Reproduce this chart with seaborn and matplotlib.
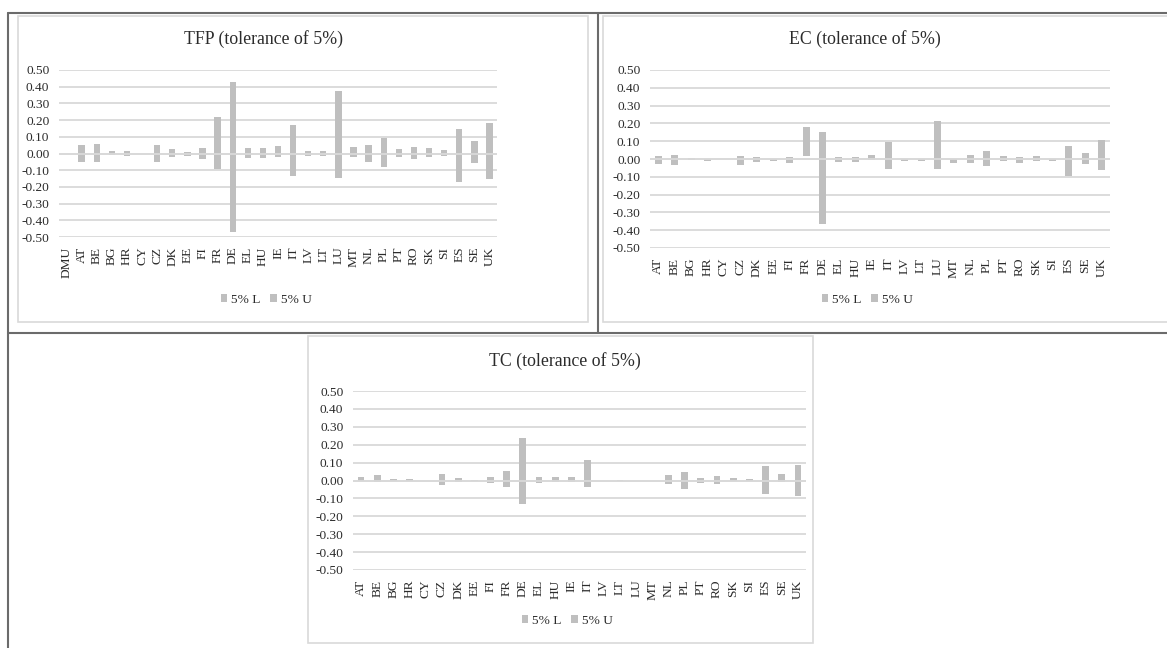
import numpy as np
import pandas as pd
import matplotlib
matplotlib.use("Agg")
import matplotlib.pyplot as plt
import seaborn as sns
from matplotlib.lines import Line2D
from matplotlib.patches import Rectangle, Patch
from matplotlib.ticker import FixedLocator, FuncFormatter

# ---------------- data ----------------
countries = ["AT", "BE", "BG", "HR", "CY", "CZ", "DK", "EE", "FI", "FR", "DE", "EL", "HU", "IE",
             "IT", "LV", "LT", "LU", "MT", "NL", "PL", "PT", "RO", "SK", "SI", "ES", "SE", "UK"]
tfp_cats = ["DMU"] + countries

tfp_L = [0, -0.05, -0.052, -0.01, -0.014, 0, -0.052, -0.022, -0.014, -0.034, -0.092, -0.472, -0.026,
         -0.026, -0.018, -0.133, -0.012, -0.012, -0.147, -0.02, -0.05, -0.082, -0.02, -0.032, -0.022,
         -0.014, -0.171, -0.058, -0.151]
tfp_U = [0, 0.052, 0.058, 0.015, 0.016, 0, 0.052, 0.028, 0.006, 0.034, 0.217, 0.43, 0.03, 0.034,
         0.042, 0.173, 0.016, 0.016, 0.376, 0.036, 0.052, 0.09, 0.028, 0.038, 0.034, 0.018, 0.149,
         0.074, 0.185]

ec_L = [-0.03, -0.032, -0.004, -0.011, 0, -0.032, -0.017, -0.013, -0.024, 0.017, -0.364, -0.019,
        -0.019, -0.004, -0.056, -0.011, -0.011, -0.056, -0.025, -0.024, -0.037, -0.011, -0.02,
        -0.013, -0.011, -0.095, -0.026, -0.062]
ec_U = [0.019, 0.02, 0.004, -0.002, 0, 0.019, 0.009, -0.002, 0.009, 0.181, 0.153, 0.009, 0.011,
        0.022, 0.097, 0, 0, 0.215, -0.002, 0.022, 0.045, 0.015, 0.013, 0.017, 0, 0.073, 0.034, 0.107]

tc_L = [-0.003, -0.011, -0.002, -0.002, 0, -0.024, -0.009, -0.002, -0.013, -0.039, -0.129, -0.013,
        -0.007, -0.011, -0.039, 0, -0.002, 0, 0, -0.021, -0.047, -0.013, -0.019, -0.003, -0.003,
        -0.078, -0.007, -0.084]
tc_U = [0.02, 0.028, 0.008, 0.006, 0, 0.035, 0.015, 0.003, 0.022, 0.054, 0.235, 0.022, 0.019,
        0.019, 0.112, 0, 0.004, 0, 0, 0.032, 0.047, 0.015, 0.024, 0.012, 0.007, 0.082, 0.039, 0.088]

titles = ["TFP (tolerance of 5%)", "EC (tolerance of 5%)", "TC (tolerance of 5%)"]
series_names = ["5% L", "5% U"]
yticks = [-0.5, -0.4, -0.3, -0.2, -0.1, 0.0, 0.1, 0.2, 0.3, 0.4, 0.5]

# ---------------- style ----------------
sns.set_theme(style="white")
plt.rcParams["font.family"] = ["Liberation Serif", "DejaVu Serif"]

W, H = 1167, 648
fig = plt.figure(figsize=(W / 100, H / 100), dpi=100)
fig.patch.set_facecolor("white")

BAR = "#bfbfbf"
GRID = "#d9d9d9"
FRAME = "#6b6b6b"
TEXT = "#2b2b2b"


def fx(x):
    return x / W


def fy(y):
    return 1 - y / H


def add_axes(left, top, right, bottom):
    return fig.add_axes([fx(left), fy(bottom), (right - left) / W, (bottom - top) / H])


def draw_panel(ax, cats, L, U, title, title_xy, legend_xy):
    df = pd.DataFrame({"cat": cats, "L": L, "U": U})
    df["span"] = df["U"] - df["L"]
    sns.barplot(data=df, x="cat", y="span", order=cats, bottom=df["L"].values,
                color=BAR, saturation=1, width=0.42, errorbar=None, ax=ax,
                edgecolor="none", linewidth=0, zorder=2)
    ax.set_ylim(-0.5, 0.5)
    ax.set_xlim(-0.5, len(cats) - 0.5)
    ax.yaxis.set_major_locator(FixedLocator(yticks))
    ax.yaxis.set_major_formatter(FuncFormatter(lambda v, p: f"{round(v, 2):.2f}".replace("-0.00", "0.00")))
    ax.grid(axis="y", color=GRID, linewidth=1.3, zorder=0)
    ax.grid(axis="x", visible=False)
    ax.set_axisbelow(True)
    ax.axhline(0, color=GRID, linewidth=1.3, zorder=3)
    for s in ax.spines.values():
        s.set_visible(False)
    ax.set_xlabel("")
    ax.set_ylabel("")
    ax.tick_params(axis="both", length=0, labelsize=9.6, colors=TEXT)
    ax.tick_params(axis="y", pad=7)
    ax.tick_params(axis="x", rotation=90, pad=7)
    ax.set_facecolor("none")
    fig.text(fx(title_xy[0]), fy(title_xy[1]), title, ha="center", va="center",
             fontsize=12.8, color=TEXT)
    handles = [Patch(facecolor=BAR, edgecolor="none"), Patch(facecolor=BAR, edgecolor="none")]
    fig.legend(handles, series_names, loc="center", ncol=2, frameon=False,
               bbox_to_anchor=(fx(legend_xy[0]), fy(legend_xy[1])),
               bbox_transform=fig.transFigure, fontsize=9.6, handlelength=0.5,
               handleheight=0.5, handletextpad=0.3, columnspacing=0.7, labelcolor=TEXT)


# chart boxes (light frames)
for (l, t, r, b) in [(18, 16, 588, 322), (603, 16, 1175, 322), (308, 336, 813, 643)]:
    fig.add_artist(Rectangle((fx(l), fy(b)), (r - l) / W, (b - t) / H, transform=fig.transFigure,
                             facecolor="white", edgecolor=GRID, linewidth=1.2, zorder=0))

# table frame lines
frame_lines = [((8, 13), (8, 648)), ((8, 13), (1167, 13)), ((598, 13), (598, 333)),
               ((8, 333), (1167, 333))]
for (x0, y0), (x1, y1) in frame_lines:
    fig.add_artist(Line2D([fx(x0), fx(x1)], [fy(y0), fy(y1)], transform=fig.transFigure,
                          color=FRAME, linewidth=1.5, zorder=1))

ax1 = add_axes(59, 70, 497, 237)
draw_panel(ax1, tfp_cats, tfp_L, tfp_U, titles[0], (263, 39), (266, 300))

ax2 = add_axes(650, 70, 1110, 248)
draw_panel(ax2, countries, ec_L, ec_U, titles[1], (865, 39), (867, 300))

ax3 = add_axes(353, 391, 806, 570)
draw_panel(ax3, countries, tc_L, tc_U, titles[2], (565, 361), (567, 621))

fig.savefig("out.png", dpi=100, facecolor="white")
